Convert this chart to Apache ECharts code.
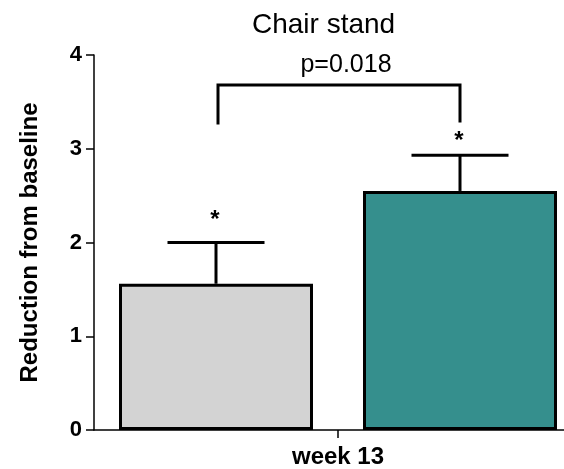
<!DOCTYPE html>
<html>
<head>
<meta charset="utf-8">
<script src="https://cdn.jsdelivr.net/npm/echarts@6/dist/echarts.min.js"></script>
<style>
  html, body { margin: 0; padding: 0; background: #fff; overflow: hidden; }
  /* the x axis runs on past the right edge of the window */
  #chart { width: 582px; height: 469px; }
</style>
</head>
<body>
<div id="chart"></div>
<script>
// Chair stand: reduction from baseline at week 13, two groups (mean + SEM)
const categories = ['week 13'];
const groupNames = ['Control', 'Intervention'];
const means = [1.56, 2.55];
const sems = [0.44, 0.38];
const groupColors = ['#d3d3d3', '#358f8d'];
const yTicks = [0, 1, 2, 3, 4];
const pValueText = 'p=0.018';
const bracketTop = 3.68;     // height of the comparison bracket
const bracketLegEnds = [3.26, 3.28];  // where each leg of the bracket stops

const FONT = '"Liberation Sans", Arial, sans-serif';
const BAR_W = 194;
const BAR_GAP_PX = 50;
const HALF_STEP = (BAR_W + BAR_GAP_PX) / 2;   // bar centre offset from the category centre
const STAR_LIFT = [22, 14];                    // asterisk distance above each error cap

const chart = echarts.init(document.getElementById('chart'), null, { renderer: 'canvas' });

// Bars, one series per group
const barSeries = groupNames.map((name, i) => ({
  name,
  type: 'bar',
  data: [means[i]],
  barWidth: BAR_W,
  barGap: (BAR_GAP_PX / BAR_W * 100) + '%',
  itemStyle: { color: groupColors[i], borderColor: '#000', borderWidth: 3 },
  z: 2
}));

// Error bars (upper only) with an asterisk above each
const errorSeries = {
  type: 'custom',
  data: means.map((m, i) => [0, m, m + sems[i], i]),
  z: 3,
  renderItem(params, api) {
    const gi = api.value(3);
    const dx = gi === 0 ? -HALF_STEP : HALF_STEP;
    const base = api.coord([api.value(0), api.value(1)]);
    const top = api.coord([api.value(0), api.value(2)]);
    const x = base[0] + dx;
    const cap = BAR_W / 4;
    const style = { stroke: '#000', lineWidth: 3 };
    return {
      type: 'group',
      children: [
        { type: 'line', shape: { x1: x, y1: base[1], x2: x, y2: top[1] }, style },
        { type: 'line', shape: { x1: x - cap, y1: top[1], x2: x + cap, y2: top[1] }, style },
        { type: 'text', style: { text: '*', x: x - 1, y: top[1] - STAR_LIFT[gi], align: 'center', verticalAlign: 'middle',
            font: 'bold 24px ' + FONT, fill: '#000' } }
      ]
    };
  }
};

// Comparison bracket between the two bars, with the p-value
const bracketSeries = {
  type: 'custom',
  data: [[0, bracketTop, bracketLegEnds[0], bracketLegEnds[1]]],
  z: 3,
  renderItem(params, api) {
    const c = api.coord([api.value(0), api.value(1)]);
    const l = api.coord([api.value(0), api.value(2)]);
    const r = api.coord([api.value(0), api.value(3)]);
    const xl = c[0] - HALF_STEP + 2, xr = c[0] + HALF_STEP;
    return {
      type: 'group',
      children: [
        { type: 'polyline', shape: { points: [[xl, l[1]], [xl, c[1]], [xr, c[1]], [xr, r[1]]] },
          style: { stroke: '#000', lineWidth: 3, fill: null } },
        { type: 'text', style: { text: pValueText, x: (xl + xr) / 2 + 7, y: c[1] - 20,
            align: 'center', verticalAlign: 'middle', font: '25px ' + FONT, fill: '#000' } }
      ]
    };
  }
};

chart.setOption({
  animation: false,
  backgroundColor: '#fff',
  title: {
    text: 'Chair stand',
    left: 247,
    top: 6,
    textStyle: { fontFamily: FONT, fontSize: 28, fontWeight: 'normal', color: '#000' }
  },
  grid: { left: 94, right: 0, top: 55, bottom: 38, containLabel: false },
  xAxis: {
    type: 'category',
    data: categories,
    boundaryGap: true,
    axisLine: { show: true, lineStyle: { color: '#000', width: 1.5 } },
    axisTick: { show: true, alignWithLabel: true, length: 8, lineStyle: { color: '#000', width: 1.5 } },
    axisLabel: { color: '#000', fontFamily: FONT, fontWeight: 'bold', fontSize: 24, margin: 15 }
  },
  yAxis: {
    type: 'value',
    min: yTicks[0],
    max: yTicks[yTicks.length - 1],
    interval: 1,
    name: 'Reduction from baseline',
    nameLocation: 'middle',
    nameGap: 52,
    nameTextStyle: { color: '#000', fontFamily: FONT, fontWeight: 'bold', fontSize: 24 },
    axisLine: { show: true, lineStyle: { color: '#000', width: 1.5 } },
    axisTick: { show: true, length: 8, lineStyle: { color: '#000', width: 1.5 } },
    axisLabel: { color: '#000', fontFamily: FONT, fontWeight: 'bold', fontSize: 22, margin: 12 },
    splitLine: { show: false }
  },
  series: [...barSeries, errorSeries, bracketSeries]
});
</script>
</body>
</html>
